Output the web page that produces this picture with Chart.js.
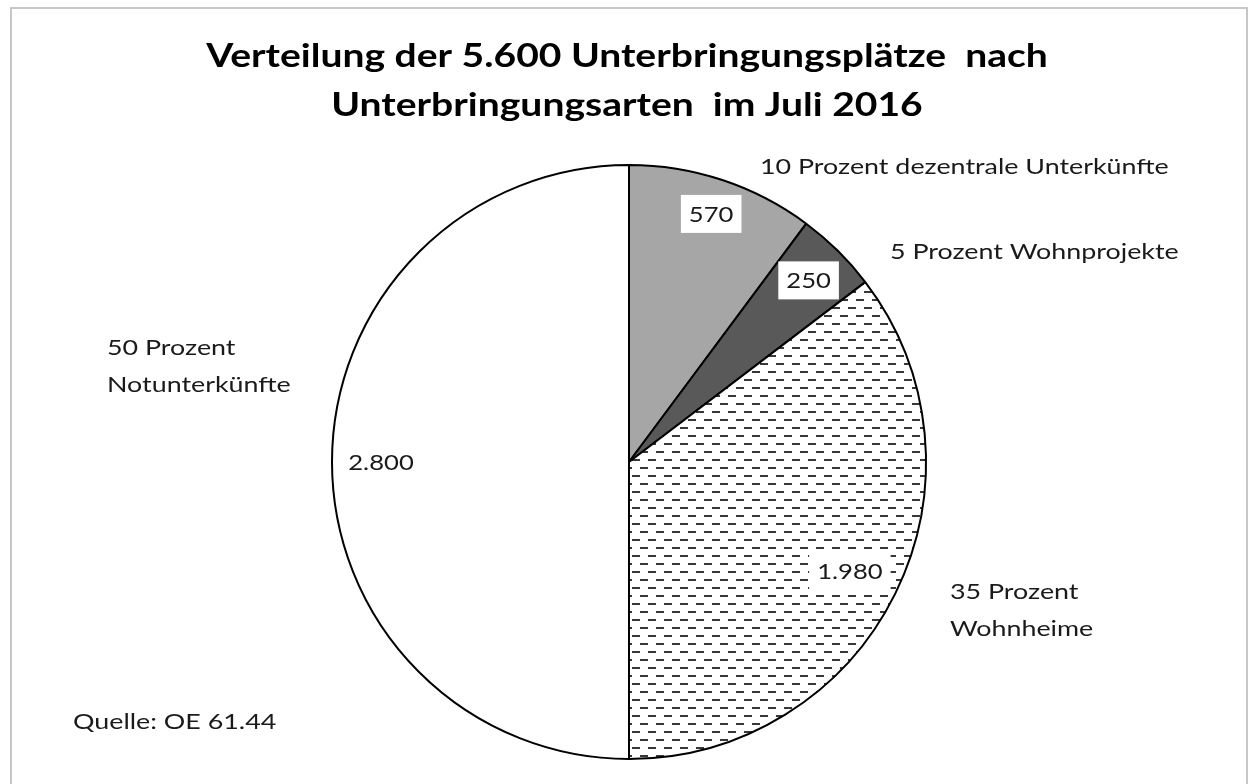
<!DOCTYPE html>
<html lang="de">
<head>
<meta charset="utf-8">
<title>Unterbringungsplätze Juli 2016</title>
<script src="https://cdn.jsdelivr.net/npm/chart.js@4.4.1/dist/chart.umd.min.js"></script>
<style>
    html, body { margin: 0; padding: 0; background: #ffffff; }
    #wrap { position: relative; width: 1249px; height: 784px; }
</style>
</head>
<body>
<div id="wrap">
    <canvas id="pieChart" width="1249" height="784"></canvas>
</div>
<script>
// Data
const categories = ["dezentrale Unterkünfte", "Wohnprojekte", "Wohnheime", "Notunterkünfte"];
const places = [570, 250, 1980, 2800];
const percentLabels = ["10 Prozent dezentrale Unterkünfte", "5 Prozent Wohnprojekte", "35 Prozent\nWohnheime", "50 Prozent\nNotunterkünfte"];
const titleLines = ["Verteilung der 5.600 Unterbringungsplätze  nach", "Unterbringungsarten  im Juli 2016"];
const sourceText = "Quelle: OE 61.44";

const FONT = "Lato, 'Open Sans', 'Liberation Sans', sans-serif";
const SX = 1.22; // horizontal stretch of the original's text

// Dash pattern for the Wohnheime slice
function makeDashPattern() {
    const tile = document.createElement("canvas");
    tile.width = 16;
    tile.height = 16;
    const t = tile.getContext("2d");
    t.fillStyle = "#ffffff";
    t.fillRect(0, 0, 16, 16);
    t.fillStyle = "#383838";
    t.fillRect(0, 3, 8, 2);
    t.fillRect(8, 11, 8, 2);
    return document.getElementById("pieChart").getContext("2d").createPattern(tile, "repeat");
}

function formatDe(n) {
    return String(n).replace(/\B(?=(\d{3})+(?!\d))/g, ".");
}

// stretched text helper
function drawText(ctx, text, x, y) {
    ctx.save();
    ctx.translate(x, y);
    ctx.scale(SX, 1);
    ctx.fillText(text, 0, 0);
    ctx.restore();
}

// Text plugin: title, value labels, category labels, source
const textPlugin = {
    id: "textPlugin",
    afterDraw(chart) {
        const ctx = chart.ctx;
        ctx.save();

        // frame
        ctx.strokeStyle = "#c6c6c6";
        ctx.lineWidth = 2;
        ctx.beginPath();
        ctx.moveTo(11, 790);
        ctx.lineTo(11, 8);
        ctx.lineTo(1247, 8);
        ctx.lineTo(1247, 790);
        ctx.stroke();

        // title
        ctx.fillStyle = "#000000";
        ctx.textAlign = "center";
        ctx.textBaseline = "middle";
        ctx.font = "bold 32px " + FONT;
        drawText(ctx, titleLines[0], 627, 57);
        drawText(ctx, titleLines[1], 627, 106);

        // value labels inside slices
        const meta = chart.getDatasetMeta(0);
        const labelRadius = [0.88, 0.86, 0.83, 0.835];
        ctx.font = "21px " + FONT;
        meta.data.forEach((arc, i) => {
            const p = arc.getProps(["x", "y", "startAngle", "endAngle", "outerRadius"], true);
            const mid = (p.startAngle + p.endAngle) / 2;
            const r = p.outerRadius * labelRadius[i];
            const x = p.x + Math.cos(mid) * r;
            const y = p.y + Math.sin(mid) * r;
            const txt = formatDe(places[i]);
            if (i < 3) {
                const w = ctx.measureText(txt).width * SX;
                const padX = 8;
                const h = 38;
                ctx.fillStyle = "#ffffff";
                ctx.fillRect(x - w / 2 - padX, y - h / 2, w + padX * 2, h);
            }
            ctx.fillStyle = "#1a1a1a";
            drawText(ctx, txt, x, y + 1);
        });

        // category labels
        ctx.font = "22px " + FONT;
        ctx.textAlign = "left";
        ctx.fillStyle = "#1a1a1a";
        const labelPos = [[760, 167], [890, 252], [950, 592], [107, 348]];
        percentLabels.forEach((lbl, i) => {
            lbl.split("\n").forEach((line, j) => {
                drawText(ctx, line, labelPos[i][0], labelPos[i][1] + j * 37);
            });
        });

        // source
        drawText(ctx, sourceText, 73, 722);
        ctx.restore();
    }
};

document.addEventListener("DOMContentLoaded", () => {
    const canvas = document.getElementById("pieChart");
    const dashPattern = makeDashPattern();

    new Chart(canvas, {
        type: "pie",
        data: {
            labels: categories,
            datasets: [
                {
                    data: places,
                    backgroundColor: ["#a6a6a6", "#595959", dashPattern, "#ffffff"],
                    borderColor: "#000000",
                    borderWidth: 2,
                }
            ]
        },
        options: {
            responsive: false,
            animation: false,
            events: [],
            layout: {
                padding: { left: 331, right: 322, top: 164, bottom: 24 }
            },
            plugins: {
                legend: { display: false },
                tooltip: { enabled: false },
                title: { display: false }
            }
        },
        plugins: [textPlugin]
    });
});
</script>
</body>
</html>
